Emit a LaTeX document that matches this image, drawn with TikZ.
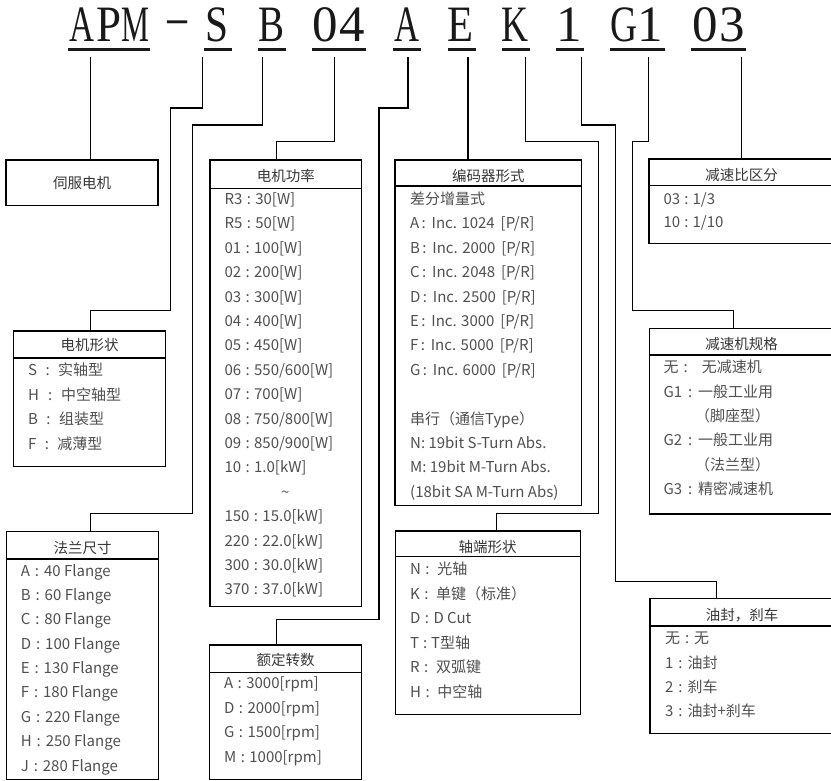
\documentclass[tikz,border=0pt]{standalone}
\usepackage{fontspec}
\usepackage{graphicx}
\setmainfont{Noto Sans CJK SC}
\newfontfamily\codefont{Liberation Serif}
\newcommand\mycolon[1]{\makebox[#1]{:}}
\definecolor{itemc}{RGB}{80,80,80}
\definecolor{titlec}{RGB}{55,55,55}
\definecolor{codec}{RGB}{25,25,25}
\begin{document}
\begin{tikzpicture}[x=1pt,y=-1pt,line join=miter,
  box/.style={draw=black,line width=1.4pt,rectangle,inner sep=0pt,outer sep=0pt,anchor=north west},
  conn/.style={line width=1.4pt},
  ttl/.style={text=titlec,font=\fontsize{14.5}{17}\selectfont,inner sep=0pt,anchor=base,yshift=-5.4pt},
  itm/.style={text=itemc,font=\fontsize{15}{17}\selectfont,inner sep=0pt,anchor=base west,yshift=-5.5pt},
  code/.style={text=codec,font=\fontsize{51}{51}\codefont,inner sep=0pt,anchor=base},
  uline/.style={line width=2.6pt,draw=codec}]
\useasboundingbox (0,0) rectangle (831,781);
\fill[white] (0,0) rectangle (831,781);

% ---- model code ----
\node[code] (k0) at (81.55,42) {\resizebox{25pt}{\height}{A}};
\node[code] (k1) at (108.65,42) {\resizebox{25pt}{\height}{P}};
\node[code] (k2) at (135.75,42) {\resizebox{28pt}{\height}{M}};
\node[code,font=\fontsize{39}{39}\codefont] (kd) at (177,31.8) {\resizebox{26pt}{\height}{-}};
\node[code] (k5) at (217.05,42) {\resizebox{23pt}{\height}{S}};
\node[code] (k7) at (271.25,42) {\resizebox{26pt}{\height}{B}};
\node[code] (k9) at (325.45,42) {0};
\node[code] (k10) at (352.55,42) {4};
\node[code] (k12) at (406.75,42) {\resizebox{25pt}{\height}{A}};
\node[code] (k14) at (460.95,42) {\resizebox{26pt}{\height}{E}};
\node[code] (k16) at (515.15,42) {\resizebox{27pt}{\height}{K}};
\node[code] (k18) at (569.35,42) {1};
\node[code] (k20) at (623.55,42) {\resizebox{27pt}{\height}{G}};
\node[code] (k21) at (650.65,42) {1};
\node[code] (k23) at (704.85,42) {0};
\node[code] (k24) at (731.95,42) {3};

\draw[uline] (68,49.3) -- (150,49.3);
\draw[uline] (204,49.3) -- (232,49.3);
\draw[uline] (258,49.3) -- (286,49.3);
\draw[uline] (312,49.3) -- (366,49.3);
\draw[uline] (393,49.3) -- (421,49.3);
\draw[uline] (448,49.3) -- (476,49.3);
\draw[uline] (502,49.3) -- (530,49.3);
\draw[uline] (556,49.3) -- (584,49.3);
\draw[uline] (610,49.3) -- (665,49.3);
\draw[uline] (691,49.3) -- (746,49.3);

% ---- boxes ----
% servo motor
\node[box,minimum width=152pt,minimum height=45.7pt] (svc) at (6,160) {};
\node[ttl] (svct) at (82,183) {伺服电机};

% motor shape
\node[box,minimum width=152.4pt,minimum height=135.7pt] (shp) at (13.3,331) {};
\draw[conn] ([yshift=-27pt]shp.north west) -- ([yshift=-27pt]shp.north east);
\node[ttl] (shpt) at (89.5,345) {电机形状};
\node[itm] (shp1) at (28,370) {S\mycolon{21pt}实轴型};
\node[itm] (shp2) at (28,394.5) {H\mycolon{22pt}中空轴型};
\node[itm] (shp3) at (28,419) {B\mycolon{21pt}组装型};
\node[itm] (shp4) at (28,443.5) {F\mycolon{21pt}减薄型};

% flange
\node[box,minimum width=151.6pt,minimum height=247.6pt] (flg) at (6.7,531.7) {};
\draw[conn] ([yshift=-27.3pt]flg.north west) -- ([yshift=-27.3pt]flg.north east);
\node[ttl] (flgt) at (82.5,548) {法兰尺寸};
\node[itm] (flg1) at (20.7,570.7) {A\mycolon{14pt}40 Flange};
\node[itm] (flg2) at (20.7,595.05) {B\mycolon{14pt}60 Flange};
\node[itm] (flg3) at (20.7,619.4) {C\mycolon{14pt}80 Flange};
\node[itm] (flg4) at (20.7,643.75) {D\mycolon{14pt}100 Flange};
\node[itm] (flg5) at (20.7,668.1) {E\mycolon{14pt}130 Flange};
\node[itm] (flg6) at (20.7,692.45) {F\mycolon{14pt}180 Flange};
\node[itm] (flg7) at (20.7,716.8) {G\mycolon{14pt}220 Flange};
\node[itm] (flg8) at (20.7,741.15) {H\mycolon{14pt}250 Flange};
\node[itm] (flg9) at (20.7,765.5) {J\mycolon{14pt}280 Flange};

% power
\node[box,minimum width=151.7pt,minimum height=446.7pt] (pwr) at (210,160) {};
\draw[conn] ([yshift=-28.3pt]pwr.north west) -- ([yshift=-28.3pt]pwr.north east);
\node[ttl] (pwrt) at (285.8,176) {电机功率};
\node[itm] (p1) at (224.3,199) {R3\mycolon{13pt}30[W]};
\node[itm] (p2) at (224.3,223.4) {R5\mycolon{13pt}50[W]};
\node[itm] (p3) at (224.3,247.8) {01\mycolon{13pt}100[W]};
\node[itm] (p4) at (224.3,272.2) {02\mycolon{13pt}200[W]};
\node[itm] (p5) at (224.3,296.6) {03\mycolon{13pt}300[W]};
\node[itm] (p6) at (224.3,321) {04\mycolon{13pt}400[W]};
\node[itm] (p7) at (224.3,345.4) {05\mycolon{13pt}450[W]};
\node[itm] (p8) at (224.3,369.8) {06\mycolon{13pt}550/600[W]};
\node[itm] (p9) at (224.3,394.2) {07\mycolon{13pt}700[W]};
\node[itm] (p10) at (224.3,418.6) {08\mycolon{13pt}750/800[W]};
\node[itm] (p11) at (224.3,443) {09\mycolon{13pt}850/900[W]};
\node[itm] (p12) at (224.3,467.4) {10\mycolon{13pt}1.0[kW]};
\node[ttl,text=itemc] (p13) at (285.5,491.8) {\char"007E};
\node[itm] (p14) at (224.3,516.2) {150\mycolon{13pt}15.0[kW]};
\node[itm] (p15) at (224.3,540.6) {220\mycolon{13pt}22.0[kW]};
\node[itm] (p16) at (224.3,565) {300\mycolon{13pt}30.0[kW]};
\node[itm] (p17) at (224.3,589.4) {370\mycolon{13pt}37.0[kW]};

% rated speed
\node[box,minimum width=152.4pt,minimum height=134.3pt] (spd) at (209.3,645) {};
\draw[conn] ([yshift=-27.3pt]spd.north west) -- ([yshift=-27.3pt]spd.north east);
\node[ttl] (spdt) at (285.5,660) {额定转数};
\node[itm] (s1) at (224,683.3) {A\mycolon{13pt}3000[rpm]};
\node[itm] (s2) at (224,707.7) {D\mycolon{13pt}2000[rpm]};
\node[itm] (s3) at (224,732.1) {G\mycolon{13pt}1500[rpm]};
\node[itm] (s4) at (224,756.5) {M\mycolon{13pt}1000[rpm]};

% encoder
\node[box,minimum width=186.7pt,minimum height=345.7pt] (enc) at (395,160) {};
\draw[conn] ([yshift=-26pt]enc.north west) -- ([yshift=-26pt]enc.north east);
\node[ttl] (enct) at (488.3,176) {编码器形式};
\node[itm] (e0) at (410,199) {差分增量式};
\node[itm] (e1) at (410,223.4) {A\mycolon{9pt} Inc. 1024 \,[P/R]};
\node[itm] (e2) at (410,247.8) {B\mycolon{9pt} Inc. 2000 \,[P/R]};
\node[itm] (e3) at (410,272.2) {C\mycolon{9pt} Inc. 2048 \,[P/R]};
\node[itm] (e4) at (410,296.6) {D\mycolon{9pt} Inc. 2500 \,[P/R]};
\node[itm] (e5) at (410,321) {E\mycolon{9pt} Inc. 3000 \,[P/R]};
\node[itm] (e6) at (410,345.4) {F\mycolon{9pt} Inc. 5000 \,[P/R]};
\node[itm] (e7) at (410,369.8) {G\mycolon{9pt} Inc. 6000 \,[P/R]};
\node[itm] (e8) at (410,419) {串行（通信Type）};
\node[itm] (e9) at (410,443) {N: 19bit S-Turn Abs.};
\node[itm] (e10) at (410,467) {M: 19bit M-Turn Abs.};
\node[itm] (e11) at (410,491.5) {(18bit SA M-Turn Abs)};

% shaft end
\node[box,minimum width=185pt,minimum height=183.3pt] (shf) at (395.7,531) {};
\draw[conn] ([yshift=-25.7pt]shf.north west) -- ([yshift=-25.7pt]shf.north east);
\node[ttl] (shft) at (487.5,546.7) {轴端形状};
\node[itm] (h1) at (410,569.3) {N\mycolon{13pt} 光轴};
\node[itm] (h2) at (410,593.8) {K\mycolon{13pt} 单键（标准）};
\node[itm] (h3) at (410,618.3) {D\mycolon{13pt}D Cut};
\node[itm] (h4) at (410,642.8) {T\mycolon{12pt}T型轴};
\node[itm] (h5) at (410,667.3) {R\mycolon{13pt} 双弧键};
\node[itm] (h6) at (410,691.7) {H\mycolon{13pt} 中空轴};

% reduction ratio
\node[box,minimum width=185pt,minimum height=84.3pt] (rat) at (649,159) {};
\draw[conn] ([yshift=-26.7pt]rat.north west) -- ([yshift=-26.7pt]rat.north east);
\node[ttl] (ratt) at (741.7,175) {减速比区分};
\node[itm] (r1) at (663.3,199.3) {03\mycolon{12.5pt}1/3};
\node[itm] (r2) at (663.3,222) {10\mycolon{12.5pt}1/10};

% gearbox spec
\node[box,minimum width=185pt,minimum height=185.7pt] (gear) at (649.3,328.3) {};
\draw[conn] ([yshift=-26.7pt]gear.north west) -- ([yshift=-26.7pt]gear.north east);
\node[ttl] (geart) at (741.7,344) {减速机规格};
\node[itm] (g1) at (663.3,367) {无\mycolon{14.5pt}\hspace{9pt}无减速机};
\node[itm] (g2) at (663.3,391.5) {G1\mycolon{16pt}一般工业用};
\node[itm] (g3) at (695,415.9) {（脚座型）};
\node[itm] (g4) at (663.3,440.3) {G2\mycolon{16pt}一般工业用};
\node[itm] (g5) at (695,464.6) {（法兰型）};
\node[itm] (g6) at (663.3,489) {G3\mycolon{16pt}精密减速机};

% oil seal, brake
\node[box,minimum width=184pt,minimum height=135pt] (brk) at (650,598.3) {};
\draw[conn] ([yshift=-27.7pt]brk.north west) -- ([yshift=-27.7pt]brk.north east);
\node[ttl] (brkt) at (742,615) {油封，刹车};
\node[itm] (b1) at (665,638.3) {无\mycolon{14pt}无};
\node[itm] (b2) at (665,662.6) {1\mycolon{14pt}油封};
\node[itm] (b3) at (665,686.9) {2\mycolon{14pt}刹车};
\node[itm] (b4) at (665,711.2) {3\mycolon{14pt}油封+刹车};

% ---- connectors ----
\coordinate (cAPM) at (90.7,57);
\draw[conn] (cAPM) -- (cAPM |- svc.north);

\coordinate (cS) at (202.7,57);
\coordinate (jS1) at (170.7,108);
\coordinate (jS2) at (90.7,310.7);
\draw[conn] (cS) |- (jS1) |- (jS2) -- (jS2 |- shp.north);

\coordinate (cB) at (262.7,57);
\coordinate (jB1) at (192.3,125);
\coordinate (jB2) at (90.7,513.3);
\draw[conn] (cB) |- (jB1) |- (jB2) -- (jB2 |- flg.north);

\coordinate (c04) at (334.7,57);
\coordinate (j041) at (276.7,141.7);
\draw[conn] (c04) |- (j041) -- (j041 |- pwr.north);

\coordinate (cA) at (408,57);
\coordinate (jA1) at (379,108);
\coordinate (jA2) at (276.7,619.3);
\draw[conn] (cA) |- (jA1) |- (jA2) -- (jA2 |- spd.north);

\coordinate (cE) at (468,57);
\draw[conn] (cE) -- (cE |- enc.north);

\coordinate (cK) at (525.3,57);
\coordinate (jK1) at (598.3,141.7);
\coordinate (jK2) at (496.7,513.3);
\draw[conn] (cK) |- (jK1) |- (jK2) -- (jK2 |- shf.north);

\coordinate (c1) at (581.7,57);
\coordinate (j11) at (615.5,125);
\coordinate (j12) at (716.7,581.7);
\draw[conn] (c1) |- (j11) |- (j12) -- (j12 |- brk.north);

\coordinate (cG) at (648.7,57);
\coordinate (jG1) at (632.5,141.7);
\coordinate (jG2) at (733.5,310.7);
\draw[conn] (cG) |- (jG1) |- (jG2) -- (jG2 |- gear.north);

\coordinate (c03) at (741.7,57);
\draw[conn] (c03) -- (c03 |- rat.north);
\end{tikzpicture}
\end{document}
